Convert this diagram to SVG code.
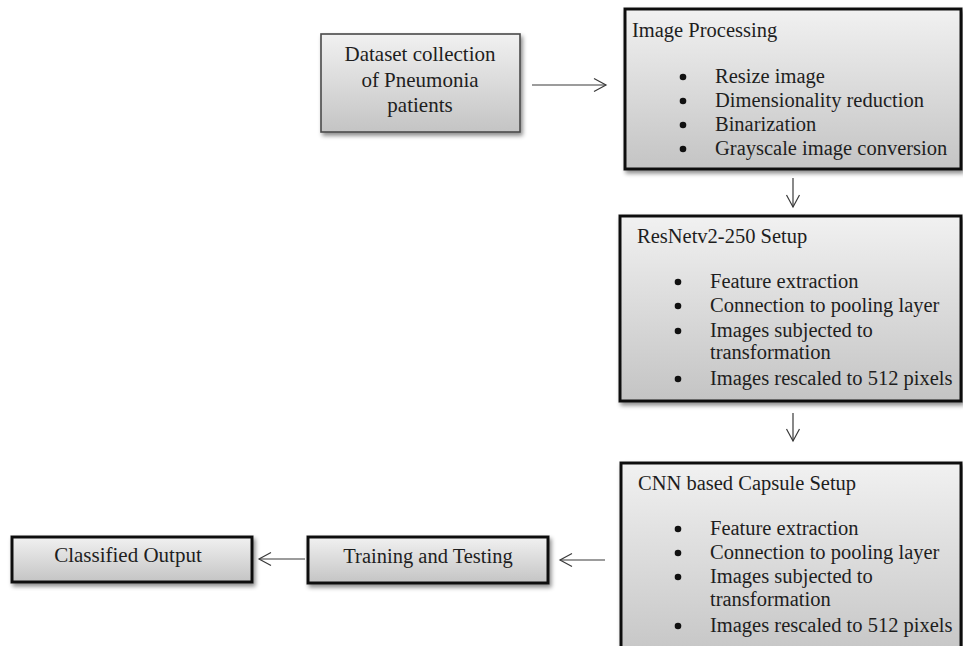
<svg xmlns="http://www.w3.org/2000/svg" width="963" height="646" viewBox="0 0 963 646">
  <defs>
    <linearGradient id="g" x1="0" y1="0" x2="0" y2="1">
      <stop offset="0" stop-color="#f1f1f1"/>
      <stop offset="1" stop-color="#c4c4c4"/>
    </linearGradient>
    <filter id="sh" x="-10%" y="-10%" width="125%" height="130%">
      <feDropShadow dx="2" dy="3" stdDeviation="2" flood-color="#000" flood-opacity="0.45"/>
    </filter>
    <marker id="arr" markerUnits="userSpaceOnUse" markerWidth="16" markerHeight="16" refX="13" refY="8" orient="auto" viewBox="0 0 16 16">
      <path d="M1,1.5 L13,8 L1,14.5" fill="none" stroke="#3a3a3a" stroke-width="1.2"/>
    </marker>
    <style>
      .box{fill:url(#g);stroke:#111;stroke-width:3;filter:url(#sh)}
      .boxl{fill:url(#g);stroke:#4a4a4a;stroke-width:1.6;filter:url(#sh)}
      text{font-family:"Liberation Serif","Times New Roman",serif;font-size:20.5px;fill:#1e1e1e}
      .c{text-anchor:middle}
      .big{font-size:21px}
      .b{fill:#111}
      .edge{stroke:#3a3a3a;stroke-width:1.2;fill:none;marker-end:url(#arr)}
    </style>
  </defs>

  <g id="dataset">
    <rect class="boxl" x="321" y="34" width="199" height="98"/>
    <text class="c big" x="420" y="61">Dataset collection</text>
    <text class="c big" x="420" y="87">of Pneumonia</text>
    <text class="c big" x="420" y="112">patients</text>
  </g>

  <g id="image-processing">
    <rect class="box" x="625" y="9" width="336" height="160"/>
    <text x="632" y="37">Image Processing</text>
    <circle class="b" cx="683" cy="77" r="3.3"/><text x="715" y="83">Resize image</text>
    <circle class="b" cx="683" cy="101" r="3.3"/><text x="715" y="107">Dimensionality reduction</text>
    <circle class="b" cx="683" cy="125" r="3.3"/><text x="715" y="131">Binarization</text>
    <circle class="b" cx="683" cy="149" r="3.3"/><text x="715" y="155">Grayscale image conversion</text>
  </g>

  <g id="resnet">
    <rect class="box" x="620" y="216" width="341" height="185"/>
    <text x="637" y="243">ResNetv2-250 Setup</text>
    <circle class="b" cx="678" cy="282" r="3.3"/><text x="710" y="288">Feature extraction</text>
    <circle class="b" cx="678" cy="306" r="3.3"/><text x="710" y="312">Connection to pooling layer</text>
    <circle class="b" cx="678" cy="331" r="3.3"/><text x="710" y="337">Images subjected to</text>
    <text x="710" y="359">transformation</text>
    <circle class="b" cx="678" cy="379" r="3.3"/><text x="710" y="385">Images rescaled to 512 pixels</text>
  </g>

  <g id="cnn-capsule">
    <rect class="box" x="621" y="463" width="340" height="200"/>
    <text x="638" y="490">CNN based Capsule Setup</text>
    <circle class="b" cx="678" cy="529" r="3.3"/><text x="710" y="535">Feature extraction</text>
    <circle class="b" cx="678" cy="553" r="3.3"/><text x="710" y="559">Connection to pooling layer</text>
    <circle class="b" cx="678" cy="577" r="3.3"/><text x="710" y="583">Images subjected to</text>
    <text x="710" y="606">transformation</text>
    <circle class="b" cx="678" cy="626" r="3.3"/><text x="710" y="632">Images rescaled to 512 pixels</text>
  </g>

  <g id="training-testing">
    <rect class="box" x="308" y="537" width="240" height="46"/>
    <text class="c" x="428" y="563">Training and Testing</text>
  </g>

  <g id="classified-output">
    <rect class="box" x="12" y="537" width="240" height="45"/>
    <text class="c big" x="128" y="562">Classified Output</text>
  </g>

  <g id="connectors">
    <line class="edge" x1="532" y1="85" x2="606" y2="85"/>
    <line class="edge" x1="793" y1="178" x2="793" y2="207"/>
    <line class="edge" x1="793" y1="413" x2="793" y2="441"/>
    <line class="edge" x1="605" y1="560" x2="560" y2="560"/>
    <line class="edge" x1="305" y1="559" x2="259" y2="559"/>
  </g>
</svg>
